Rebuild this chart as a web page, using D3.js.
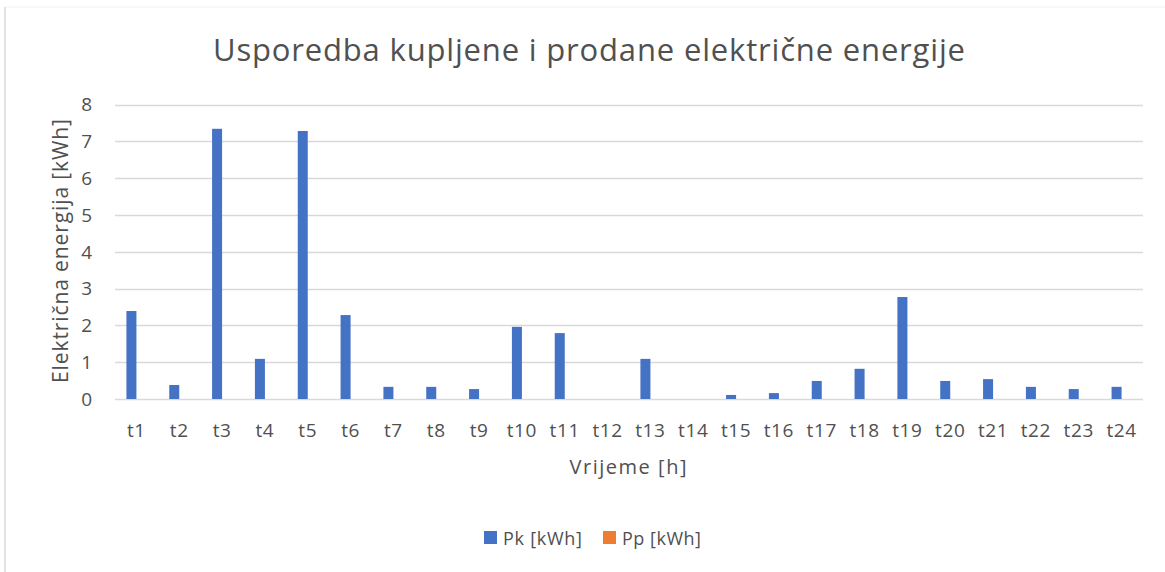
<!DOCTYPE html>
<html>
<head>
  <meta charset="utf-8">
  <title>Usporedba kupljene i prodane električne energije</title>
  <script src="https://d3js.org/d3.v7.min.js"></script>
  <style>
    body { margin: 0; background: #fff; }
    text { font-family: "Open Sans", sans-serif; fill: #505050; }
  </style>
</head>
<body>
<script>
// chart data
var hours = ["t1","t2","t3","t4","t5","t6","t7","t8","t9","t10","t11","t12",
             "t13","t14","t15","t16","t17","t18","t19","t20","t21","t22","t23","t24"];
var seriesNames = ["Pk [kWh]", "Pp [kWh]"];
var pk = [2.39, 0.38, 7.34, 1.09, 7.28, 2.28, 0.33, 0.33, 0.27, 1.96, 1.79, 0,
          1.09, 0, 0.11, 0.16, 0.49, 0.82, 2.77, 0.49, 0.54, 0.33, 0.27, 0.33];
var pp = [0, 0, 0, 0, 0, 0, 0, 0, 0, 0, 0, 0,
          0, 0, 0, 0, 0, 0, 0, 0, 0, 0, 0, 0];
var yTicks = [0, 1, 2, 3, 4, 5, 6, 7, 8];
var colors = ["#4472C4", "#ED7D31"];

var width = 1165, height = 572;
var margin = {left: 115, right: 22, top: 104.5, bottom: 173};

var svg = d3.select("body").append("svg")
    .attr("width", width)
    .attr("height", height);

// chart frame
svg.append("line").attr("x1", 5).attr("x2", 5).attr("y1", 7).attr("y2", height)
    .style("stroke", "#d9d9d9").style("stroke-width", 1.5);
svg.append("line").attr("x1", 5).attr("x2", width).attr("y1", 7).attr("y2", 7)
    .style("stroke", "#efefef").style("stroke-width", 1);

var x0 = d3.scaleBand()
    .domain(hours)
    .range([margin.left, width - margin.right])
    .paddingInner(0).paddingOuter(0);

var x1 = d3.scaleBand()
    .domain(seriesNames)
    .range([0, x0.bandwidth()])
    .paddingInner(0).paddingOuter(1.14);

var y = d3.scaleLinear()
    .domain([0, 8])
    .range([height - margin.bottom, margin.top]);

// gridlines
svg.append("g")
  .selectAll("line")
  .data(yTicks)
  .enter().append("line")
    .attr("x1", margin.left)
    .attr("x2", width - margin.right)
    .attr("y1", function(d) { return Math.round(y(d)) + 0.5; })
    .attr("y2", function(d) { return Math.round(y(d)) + 0.5; })
    .style("stroke", "#d9d9d9")
    .style("stroke-width", 1.5);

// y tick labels
svg.append("g")
  .selectAll("text")
  .data(yTicks)
  .enter().append("text")
    .attr("x", 92)
    .attr("y", function(d) { return y(d); })
    .attr("dy", "0.36em")
    .attr("text-anchor", "end")
    .style("font-size", "19px")
    .text(function(d) { return d; });

// bars
var table = hours.map(function(h, i) {
  return {hour: h, values: [{name: seriesNames[0], v: pk[i]}, {name: seriesNames[1], v: pp[i]}]};
});

var groups = svg.append("g")
  .selectAll("g")
  .data(table)
  .enter().append("g")
    .attr("transform", function(d) { return "translate(" + x0(d.hour) + ",0)"; });

groups.selectAll("rect")
  .data(function(d) { return d.values; })
  .enter().append("rect")
    .attr("x", function(d) { return x1(d.name); })
    .attr("width", x1.bandwidth())
    .attr("y", function(d) { return y(d.v); })
    .attr("height", function(d) { return y(0) - y(d.v); })
    .style("fill", function(d, i) { return colors[i]; });

// x tick labels
svg.append("g")
  .selectAll("text")
  .data(hours)
  .enter().append("text")
    .attr("x", function(d) { return x0(d) + x0.bandwidth() / 2; })
    .attr("y", 437)
    .attr("text-anchor", "middle")
    .style("font-size", "19px")
    .style("letter-spacing", "0.6px")
    .text(function(d) { return d; });

// title
svg.append("text")
    .attr("x", 589)
    .attr("y", 61)
    .attr("text-anchor", "middle")
    .attr("textLength", 752)
    .attr("lengthAdjust", "spacing")
    .style("font-size", "31px")
    .text("Usporedba kupljene i prodane električne energije");

// axis titles
svg.append("text")
    .attr("x", 628)
    .attr("y", 474)
    .attr("text-anchor", "middle")
    .attr("textLength", 117)
    .attr("lengthAdjust", "spacing")
    .style("font-size", "20px")
    .text("Vrijeme [h]");

svg.append("text")
    .attr("transform", "translate(68,251) rotate(-90)")
    .attr("text-anchor", "middle")
    .attr("textLength", 264)
    .attr("lengthAdjust", "spacing")
    .style("font-size", "21px")
    .text("Električna energija [kWh]");

// legend
var legendX = [484, 603];
var legend = svg.append("g")
  .selectAll("g")
  .data(seriesNames)
  .enter().append("g")
    .attr("transform", function(d, i) { return "translate(" + legendX[i] + ",531)"; });

legend.append("rect")
    .attr("width", 13).attr("height", 13)
    .style("fill", function(d, i) { return colors[i]; });

legend.append("text")
    .attr("x", 19)
    .attr("y", 14)
    .attr("textLength", 79)
    .attr("lengthAdjust", "spacing")
    .style("font-size", "18px")
    .text(function(d) { return d; });
</script>
</body>
</html>
